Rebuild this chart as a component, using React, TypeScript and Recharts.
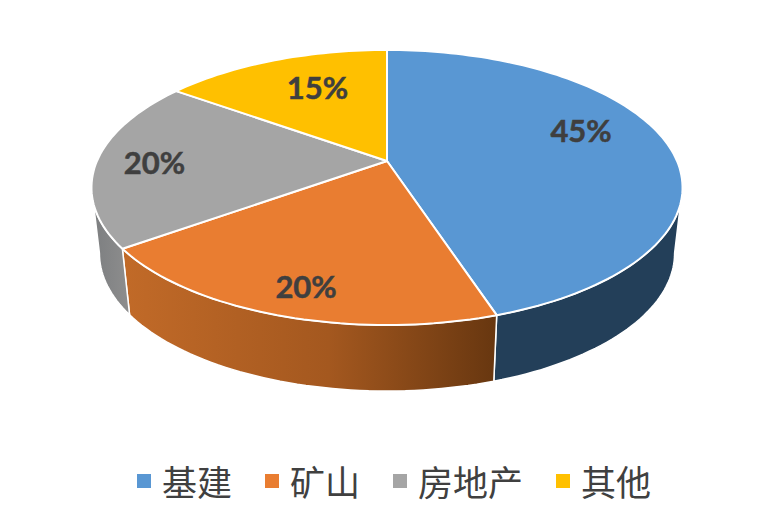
import React from "react"
import { PieChart, Pie, Legend } from "recharts"

const names = ["基建", "矿山", "房地产", "其他"]
const shares = [45, 20, 20, 15]
const colors = ["#5997D3", "#E97D31", "#A5A5A5", "#FFC000"]
const wallColors = ["#233F59", "url(#wallOrange)", "url(#wallGray)", "#7F6000"]
const labelNudge = [[-16, -16], [-3, 15], [-15, 1], [18, 4]]

const tableData = names.map((name, i) => ({ name, value: shares[i], fill: colors[i] }))

// the pie is seen in perspective: flat-circle coordinates go through this projection
const CX = 387
const CY = 161
const RADIUS = 290
const TILT = -0.1927
const SQUASH = 101.4
const DEPTH = 66
const FAR_SCALE = 0.973
const WALL_FROM = 101
const WALL_TO = 259

function project(theta: number, frac = 1) {
  const rad = (theta * Math.PI) / 180
  const u = Math.sin(rad) * frac
  const v = -Math.cos(rad) * frac
  const w = 1 + TILT * v
  return { x: CX + (RADIUS * u) / w, y: (CY + SQUASH * v) / w }
}

function arcPoints(from: number, to: number) {
  const pts = []
  const steps = Math.max(2, Math.ceil(Math.abs(to - from) / 1.5))
  for (let i = 0; i <= steps; i++) pts.push(project(from + ((to - from) * i) / steps))
  return pts
}

const toPath = (pts: { x: number; y: number }[]) => pts.map((p, i) => `${i ? "L" : "M"}${p.x.toFixed(1)} ${p.y.toFixed(1)}`).join(" ")

function Slice3D(props: any) {
  const from = 90 - props.startAngle
  const to = 90 - props.endAngle
  const idx = names.indexOf(props.name)
  const a = Math.max(from, WALL_FROM)
  const b = Math.min(to, WALL_TO)
  let wall = null
  if (b > a) {
    const near = arcPoints(a, b)
    const far = near.map(p => ({ x: CX + (p.x - CX) * FAR_SCALE, y: p.y + DEPTH })).reverse()
    wall = <path d={toPath([...near, ...far]) + " Z"} fill={wallColors[idx]} stroke="#fff" strokeWidth={1.5} strokeLinejoin="round" />
  }
  const top = toPath([{ x: CX, y: CY }, ...arcPoints(from, to)]) + " Z"
  return (
    <g>
      {wall}
      <path d={top} fill={colors[idx]} stroke="#fff" strokeWidth={2} strokeLinejoin="round" />
    </g>
  )
}

function SliceLabel(props: any) {
  const idx = names.indexOf(props.name)
  const p = project(90 - props.midAngle, 0.75)
  return (
    <text
      x={p.x + labelNudge[idx][0]}
      y={p.y + labelNudge[idx][1]}
      textAnchor="middle"
      dominantBaseline="central"
      stroke="#3F3F3F"
      strokeWidth={0.5}
      style={{ fontFamily: "Lato", fontWeight: 700, fontSize: 31, fill: "#3F3F3F" }}
    >
      {`${shares[idx]}%`}
    </text>
  )
}

function LegendRow({ payload }: any) {
  return (
    <div style={{ display: "flex", alignItems: "center", gap: 33, paddingLeft: 137 }}>
      {(payload || []).map((e: any) => (
        <div key={e.value} style={{ display: "flex", alignItems: "center", gap: 11 }}>
          <span style={{ width: 14, height: 14, background: e.color, display: "inline-block" }} />
          <span style={{ fontFamily: "'Noto Sans CJK SC'", fontSize: 35, lineHeight: "42px", color: "#404040" }}>{e.value}</span>
        </div>
      ))}
    </div>
  )
}

export default function App() {
  return (
    <div style={{ position: "absolute", left: 0, top: 0, width: 782, height: 512, background: "#fff" }}>
      <PieChart width={782} height={512} margin={{ top: 0, right: 0, bottom: 0, left: 0 }}>
        <defs>
          <linearGradient id="wallOrange" gradientUnits="userSpaceOnUse" x1={125} y1={0} x2={495} y2={0}>
            <stop offset="0%" stopColor="#C16A28" />
            <stop offset="55%" stopColor="#A4581F" />
            <stop offset="100%" stopColor="#683710" />
          </linearGradient>
          <linearGradient id="wallGray" gradientUnits="userSpaceOnUse" x1={92} y1={0} x2={130} y2={0}>
            <stop offset="0%" stopColor="#7C7E80" />
            <stop offset="100%" stopColor="#8E8E8E" />
          </linearGradient>
        </defs>
        <Pie
          data={tableData}
          dataKey="value"
          nameKey="name"
          cx={CX}
          cy={CY}
          outerRadius={RADIUS}
          startAngle={90}
          endAngle={-270}
          isAnimationActive={false}
          shape={Slice3D}
          label={SliceLabel}
          labelLine={false}
        />
        <Legend content={LegendRow} itemSorter={null} wrapperStyle={{ left: 0, top: 460, width: 782 }} />
      </PieChart>
    </div>
  )
}
